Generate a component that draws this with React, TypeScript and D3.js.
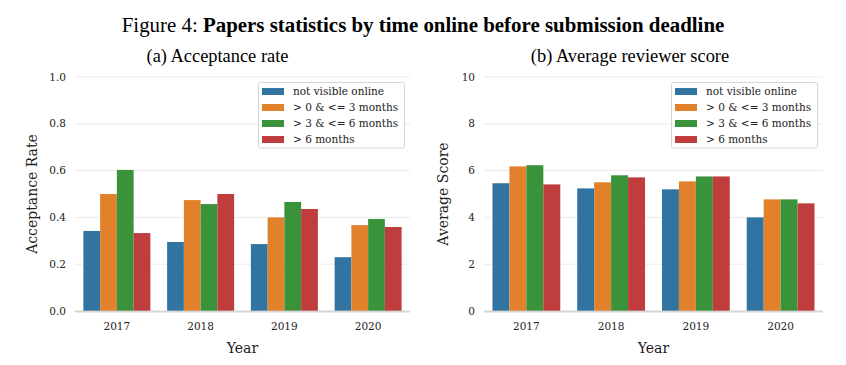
import React, { useRef, useEffect } from "react";
import * as d3 from "d3";

// chart data
const years = ["2017", "2018", "2019", "2020"];
const groups = ["not visible online", "> 0 & <= 3 months", "> 3 & <= 6 months", "> 6 months"];
const colors = ["#3274a1", "#e1812c", "#3a923a", "#c03d3e"];

// acceptance rate, one array per group (2017..2020)
const accNotVisible = [0.342, 0.295, 0.286, 0.23];
const acc0to3 = [0.5, 0.474, 0.4, 0.367];
const acc3to6 = [0.603, 0.457, 0.466, 0.393];
const accOver6 = [0.333, 0.5, 0.436, 0.359];

// average reviewer score
const scoreNotVisible = [5.46, 5.24, 5.2, 4.0];
const score0to3 = [6.18, 5.5, 5.54, 4.77];
const score3to6 = [6.23, 5.8, 5.75, 4.77];
const scoreOver6 = [5.41, 5.71, 5.75, 4.6];

const accTicks = [0, 0.2, 0.4, 0.6, 0.8, 1.0];
const scoreTicks = [0, 2, 4, 6, 8, 10];

const App = () => {
  const svgRef = useRef<SVGSVGElement>(null);

  useEffect(() => {
    const width = 846;
    const height = 365;
    const serif = "'DejaVu Serif', serif";
    const times = "'Liberation Serif', 'Times New Roman', serif";

    const svg = d3.select(svgRef.current).attr("width", width).attr("height", height);
    svg.selectAll("*").remove();

    // Figure title
    const title = svg
      .append("text")
      .attr("x", 423)
      .attr("y", 32)
      .attr("text-anchor", "middle")
      .style("font-family", times)
      .style("font-size", "20.9px");
    title.append("tspan").text("Figure 4: ");
    title.append("tspan").attr("font-weight", "bold").text("Papers statistics by time online before submission deadline");

    const drawPanel = (opts) => {
      const { x0, x1, subtitle, subX, yLabel, yLabelX, series, ymax, ticks, fmt, legendX } = opts;
      const top = 77;
      const bottom = 311;

      const xScale = d3.scaleBand().domain(years).range([x0, x1]).paddingInner(0.2).paddingOuter(0.1);
      const inner = d3.scaleBand().domain(groups).range([0, xScale.bandwidth()]);
      const yScale = d3.scaleLinear().domain([0, ymax]).range([bottom, top]);

      const g = svg.append("g");

      svg
        .append("text")
        .attr("x", subX)
        .attr("y", 62)
        .attr("text-anchor", "middle")
        .style("font-family", times)
        .style("font-size", "18.4px")
        .text(subtitle);

      // grid lines
      g.selectAll(".grid")
        .data(ticks.slice(1))
        .enter()
        .append("line")
        .attr("x1", x0)
        .attr("x2", x1)
        .attr("y1", (d) => yScale(d))
        .attr("y2", (d) => yScale(d))
        .attr("stroke", "#ebebeb")
        .attr("stroke-width", 1);

      // y tick labels
      g.selectAll(".ytick")
        .data(ticks)
        .enter()
        .append("text")
        .attr("x", x0 - 9)
        .attr("y", (d) => yScale(d))
        .attr("dy", "0.35em")
        .attr("text-anchor", "end")
        .style("font-family", serif)
        .style("font-size", "10.5px")
        .attr("fill", "#222")
        .text((d) => fmt(d));

      // bars
      series.forEach((values, si) => {
        g.selectAll(".bar" + si)
          .data(values)
          .enter()
          .append("rect")
          .attr("x", (_, i) => xScale(years[i]) + inner(groups[si]))
          .attr("y", (d) => yScale(d))
          .attr("width", inner.bandwidth())
          .attr("height", (d) => bottom - yScale(d))
          .attr("fill", colors[si]);
      });

      // bottom axis line
      g.append("line")
        .attr("x1", x0)
        .attr("x2", x1)
        .attr("y1", bottom + 0.5)
        .attr("y2", bottom + 0.5)
        .attr("stroke", "#cccccc")
        .attr("stroke-opacity", 0.8)
        .attr("stroke-width", 1.8);

      // x tick labels
      g.selectAll(".xtick")
        .data(years)
        .enter()
        .append("text")
        .attr("x", (d) => xScale(d) + xScale.bandwidth() / 2)
        .attr("y", 330)
        .attr("text-anchor", "middle")
        .style("font-family", serif)
        .style("font-size", "10.5px")
        .attr("fill", "#222")
        .text((d) => d);

      g.append("text")
        .attr("x", (x0 + x1) / 2)
        .attr("y", 353)
        .attr("text-anchor", "middle")
        .style("font-family", serif)
        .style("font-size", "14px")
        .attr("fill", "#222")
        .text("Year");

      g.append("text")
        .attr("transform", `translate(${yLabelX},${(top + bottom) / 2}) rotate(-90)`)
        .attr("text-anchor", "middle")
        .style("font-family", serif)
        .style("font-size", "14px")
        .attr("fill", "#222")
        .text(yLabel);

      // legend
      const lg = g.append("g").attr("transform", `translate(${legendX},82)`);
      lg.append("rect")
        .attr("x", 0.5)
        .attr("y", 0.5)
        .attr("width", 146)
        .attr("height", 65.5)
        .attr("rx", 2)
        .attr("fill", "white")
        .attr("stroke", "#d6d6d6")
        .attr("stroke-width", 1);
      const item = lg
        .selectAll(".legend")
        .data(groups)
        .enter()
        .append("g")
        .attr("transform", (_, i) => `translate(4, ${5 + i * 16})`);
      item
        .append("rect")
        .attr("width", 22)
        .attr("height", 7)
        .attr("y", 1)
        .attr("fill", (_, i) => colors[i]);
      item
        .append("text")
        .attr("x", 31)
        .attr("y", 4.5)
        .attr("dy", "0.35em")
        .style("font-family", serif)
        .style("font-size", "10.5px")
        .attr("fill", "#222")
        .text((d) => d);
    };

    drawPanel({
      x0: 75,
      x1: 410,
      subtitle: "(a) Acceptance rate",
      subX: 217.5,
      yLabel: "Acceptance Rate",
      yLabelX: 37,
      series: [accNotVisible, acc0to3, acc3to6, accOver6],
      ymax: 1.0,
      ticks: accTicks,
      fmt: d3.format(".1f"),
      legendX: 258,
    });

    drawPanel({
      x0: 484,
      x1: 823,
      subtitle: "(b) Average reviewer score",
      subX: 630,
      yLabel: "Average Score",
      yLabelX: 448,
      series: [scoreNotVisible, score0to3, score3to6, scoreOver6],
      ymax: 10,
      ticks: scoreTicks,
      fmt: d3.format("d"),
      legendX: 671,
    });
  }, []);

  return <svg ref={svgRef} style={{ position: "absolute", left: 0, top: 0, background: "white" }}></svg>;
};

export default App;
